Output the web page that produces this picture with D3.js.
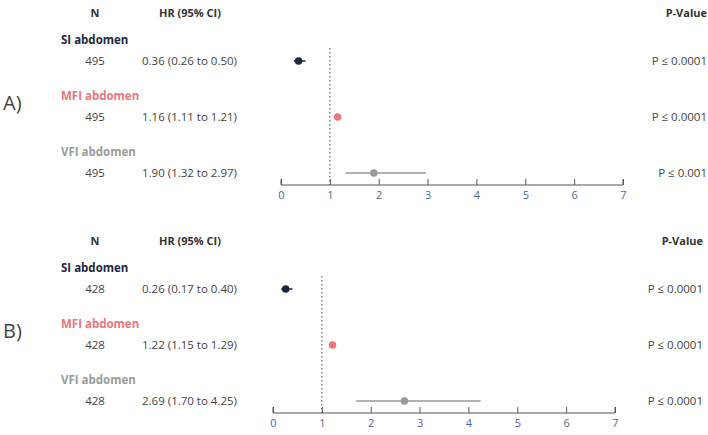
<!DOCTYPE html>
<html><head><meta charset="utf-8">
<script src="https://cdn.jsdelivr.net/npm/d3@7"></script>
<style>body{margin:0;background:#fff;font-family:"Open Sans",sans-serif}</style>
</head><body><svg id="c" width="708" height="435"></svg>
<script>
const measures = ["SI abdomen", "MFI abdomen", "VFI abdomen"];
const colors = ["#1e2740", "#e8777d", "#9a9a9a"];
const panelNames = ["A)", "B)"];
const nA = [495, 495, 495], nB = [428, 428, 428];
const hrA = [0.36, 1.16, 1.90], loA = [0.26, 1.11, 1.32], hiA = [0.50, 1.21, 2.97];
const hrB = [0.26, 1.22, 2.69], loB = [0.17, 1.15, 1.70], hiB = [0.40, 1.29, 4.25];
const pA = ["P ≤ 0.0001", "P ≤ 0.0001", "P ≤ 0.001"];
const pB = ["P ≤ 0.0001", "P ≤ 0.0001", "P ≤ 0.0001"];
const ticks = [0, 1, 2, 3, 4, 5, 6, 7];

const svg = d3.select("#c");
const panels = [
  { name: panelNames[0], n: nA, hr: hrA, lo: loA, hi: hiA, p: pA, top: 0, x0: 281, x1: 623, pRight: 707 },
  { name: panelNames[1], n: nB, hr: hrB, lo: loB, hi: hiB, p: pB, top: 228, x0: 273, x1: 615, pRight: 703 }
];

panels.forEach(P => {
  const g = svg.append("g").attr("transform", `translate(0,${P.top})`);
  const x = d3.scaleLinear().domain([0, 7]).range([P.x0, P.x1]);
  const rowY = d3.scalePoint().domain(measures).range([61, 173]);
  const axisY = 185;

  // header
  g.append("text").attr("x", 95).attr("y", 17).attr("text-anchor", "middle")
    .attr("font-size", 11).attr("font-weight", 700).attr("fill", "#333").text("N");
  g.append("text").attr("x", 190).attr("y", 17).attr("text-anchor", "middle")
    .attr("font-size", 11).attr("font-weight", 700).attr("fill", "#333").text("HR (95% CI)");
  g.append("text").attr("x", P.pRight).attr("y", 17).attr("text-anchor", "end")
    .attr("font-size", 11).attr("font-weight", 700).attr("fill", "#333").text("P-Value");
  g.append("text").attr("x", 3).attr("y", 110).attr("font-size", 20).attr("fill", "#444").text(P.name);

  // reference line
  g.append("line").attr("x1", x(1)).attr("x2", x(1)).attr("y1", 48).attr("y2", axisY)
    .attr("stroke", "#444").attr("stroke-dasharray", "1.5,2.5");

  measures.forEach((m, i) => {
    const y = rowY(m);
    g.append("text").attr("x", 61).attr("y", y - 17).attr("font-size", 11.5).attr("font-weight", 700)
      .attr("fill", colors[i]).text(m);
    g.append("text").attr("x", 95).attr("y", y + 4).attr("text-anchor", "middle")
      .attr("font-size", 11.5).attr("fill", "#444").text(P.n[i]);
    g.append("text").attr("x", 142).attr("y", y + 4).attr("font-size", 11.5).attr("fill", "#444")
      .text(`${P.hr[i].toFixed(2)} (${P.lo[i].toFixed(2)} to ${P.hi[i].toFixed(2)})`);
    g.append("text").attr("x", P.pRight).attr("y", y + 4).attr("text-anchor", "end")
      .attr("font-size", 11.5).attr("fill", "#444").text(P.p[i]);
    g.append("line").attr("x1", x(P.lo[i])).attr("x2", x(P.hi[i])).attr("y1", y).attr("y2", y)
      .attr("stroke", colors[i]).attr("stroke-width", 1.5);
    g.append("circle").attr("cx", x(P.hr[i])).attr("cy", y).attr("r", 3.8).attr("fill", colors[i]);
  });

  const ax = g.append("g").attr("transform", `translate(0,${axisY})`)
    .call(d3.axisBottom(x).tickValues(ticks).tickSize(-6).tickPadding(4).tickFormat(d3.format("d")));
  ax.select(".domain").attr("stroke", "#555").attr("d", `M${P.x0},-6V0H${P.x1}V-6`);
  ax.selectAll(".tick line").attr("stroke", "#555");
  ax.selectAll(".tick text").attr("fill", "#4a6896").attr("font-size", 11).attr("dy", "0.9em")
    .attr("font-family", "'Open Sans', sans-serif");
});
</script></body></html>
